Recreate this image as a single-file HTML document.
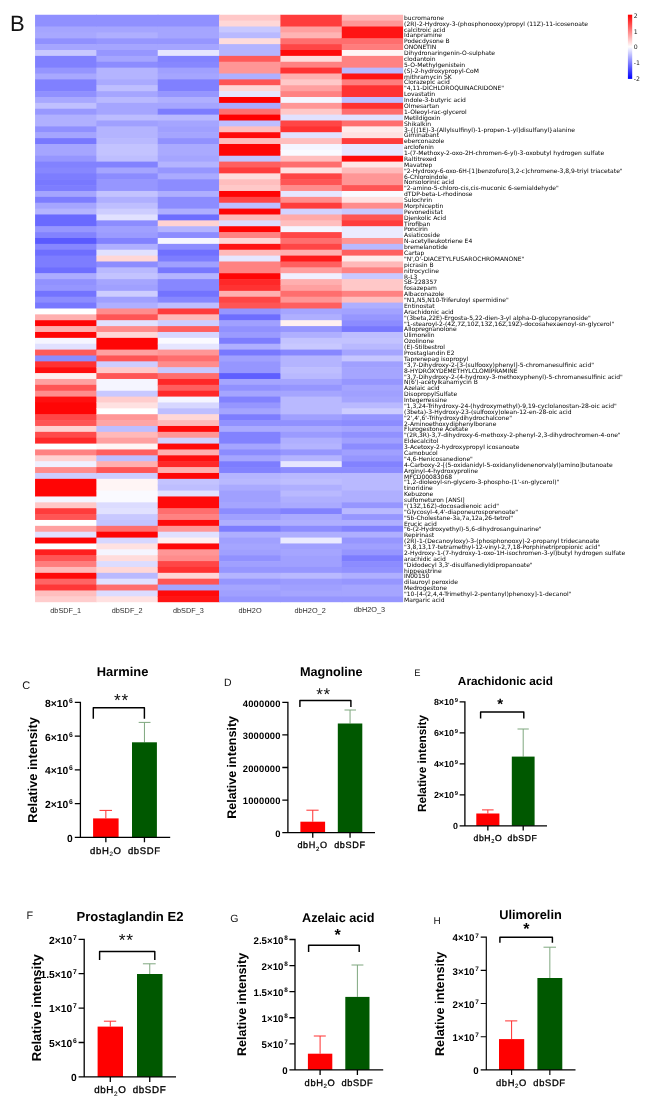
<!DOCTYPE html>
<html><head><meta charset="utf-8"><title>Figure</title>
<style>
html,body{margin:0;padding:0;background:#fff}
svg{display:block;text-rendering:geometricPrecision}
.lab{font-family:"DejaVu Sans","Liberation Sans",sans-serif;font-size:6.0px;fill:#000}
.cb{font-family:"DejaVu Sans","Liberation Sans",sans-serif;font-size:6.2px;fill:#222}
.col{font-family:"Liberation Sans",Arial,sans-serif;font-size:7.3px;fill:#303030;text-anchor:middle}
.pl{font-family:"Liberation Sans",Arial,sans-serif;fill:#111}
.xl{font-family:"Liberation Sans",Arial,sans-serif;fill:#000;stroke:#000;stroke-width:0.32;text-anchor:middle}
.b{font-family:"Liberation Sans",Arial,sans-serif;font-weight:bold;fill:#000}
</style></head><body>
<svg width="650" height="1108" viewBox="0 0 650 1108">
<rect width="650" height="1108" fill="#fff"/>
<defs><linearGradient id="cbg" x1="0" y1="0" x2="0" y2="1"><stop offset="0" stop-color="#ff0000"/><stop offset="0.5" stop-color="#ffffff"/><stop offset="1" stop-color="#0000ff"/></linearGradient></defs>
<text class="pl" x="9.9" y="31.2" font-size="22">B</text>
<g>
<rect x="35.05" y="14.75" width="61.95" height="12.35" fill="#9090ff"/>
<rect x="35.05" y="26.50" width="61.95" height="6.47" fill="#a5a5ff"/>
<rect x="35.05" y="32.37" width="61.95" height="6.47" fill="#a8a8ff"/>
<rect x="35.05" y="38.25" width="61.95" height="6.47" fill="#9090ff"/>
<rect x="35.05" y="44.12" width="61.95" height="6.47" fill="#a5a5ff"/>
<rect x="35.05" y="50.00" width="61.95" height="6.47" fill="#c8c8ff"/>
<rect x="35.05" y="55.87" width="61.95" height="12.35" fill="#8080ff"/>
<rect x="35.05" y="67.62" width="61.95" height="6.47" fill="#9595ff"/>
<rect x="35.05" y="73.50" width="61.95" height="6.47" fill="#a8a8ff"/>
<rect x="35.05" y="79.37" width="61.95" height="12.35" fill="#8080ff"/>
<rect x="35.05" y="91.12" width="61.95" height="6.47" fill="#9090ff"/>
<rect x="35.05" y="96.99" width="61.95" height="6.47" fill="#a8a8ff"/>
<rect x="35.05" y="102.87" width="61.95" height="6.47" fill="#c0c0ff"/>
<rect x="35.05" y="108.74" width="61.95" height="6.47" fill="#9898ff"/>
<rect x="35.05" y="114.62" width="61.95" height="12.35" fill="#b0b0ff"/>
<rect x="35.05" y="126.37" width="61.95" height="6.47" fill="#9090ff"/>
<rect x="35.05" y="132.24" width="61.95" height="6.47" fill="#a5a5ff"/>
<rect x="35.05" y="138.11" width="61.95" height="6.47" fill="#7878ff"/>
<rect x="35.05" y="143.99" width="61.95" height="12.35" fill="#a5a5ff"/>
<rect x="35.05" y="155.74" width="61.95" height="6.47" fill="#9696ff"/>
<rect x="35.05" y="161.61" width="61.95" height="6.47" fill="#8282ff"/>
<rect x="35.05" y="167.49" width="61.95" height="6.47" fill="#8787ff"/>
<rect x="35.05" y="173.36" width="61.95" height="6.47" fill="#7d7dff"/>
<rect x="35.05" y="179.24" width="61.95" height="6.47" fill="#7878ff"/>
<rect x="35.05" y="185.11" width="61.95" height="6.47" fill="#7d7dff"/>
<rect x="35.05" y="190.99" width="61.95" height="6.47" fill="#a5a5ff"/>
<rect x="35.05" y="196.86" width="61.95" height="6.47" fill="#7d7dff"/>
<rect x="35.05" y="202.73" width="61.95" height="6.47" fill="#a5a5ff"/>
<rect x="35.05" y="208.61" width="61.95" height="6.47" fill="#b4b4ff"/>
<rect x="35.05" y="214.48" width="61.95" height="12.35" fill="#6969ff"/>
<rect x="35.05" y="226.23" width="61.95" height="6.47" fill="#9696ff"/>
<rect x="35.05" y="232.11" width="61.95" height="6.47" fill="#8282ff"/>
<rect x="35.05" y="237.98" width="61.95" height="6.47" fill="#5a5aff"/>
<rect x="35.05" y="243.86" width="61.95" height="6.47" fill="#8787ff"/>
<rect x="35.05" y="249.73" width="61.95" height="6.47" fill="#6e6eff"/>
<rect x="35.05" y="255.60" width="61.95" height="12.35" fill="#7d7dff"/>
<rect x="35.05" y="267.35" width="61.95" height="6.47" fill="#6e6eff"/>
<rect x="35.05" y="273.23" width="61.95" height="6.47" fill="#acacff"/>
<rect x="35.05" y="279.10" width="61.95" height="6.47" fill="#9191ff"/>
<rect x="35.05" y="284.98" width="61.95" height="6.47" fill="#9696ff"/>
<rect x="35.05" y="290.85" width="61.95" height="6.47" fill="#7373ff"/>
<rect x="35.05" y="296.73" width="61.95" height="6.47" fill="#8c8cff"/>
<rect x="35.05" y="302.60" width="61.95" height="6.47" fill="#7878ff"/>
<rect x="35.05" y="308.48" width="61.95" height="6.47" fill="#ffffff"/>
<rect x="35.05" y="314.35" width="61.95" height="6.47" fill="#ffafaf"/>
<rect x="35.05" y="320.22" width="61.95" height="6.47" fill="#ff0505"/>
<rect x="35.05" y="326.10" width="61.95" height="6.47" fill="#ffafaf"/>
<rect x="35.05" y="331.97" width="61.95" height="6.47" fill="#ff0505"/>
<rect x="35.05" y="337.85" width="61.95" height="6.47" fill="#f5f5ff"/>
<rect x="35.05" y="343.72" width="61.95" height="6.47" fill="#e1e1ff"/>
<rect x="35.05" y="349.60" width="61.95" height="6.47" fill="#ff5a5a"/>
<rect x="35.05" y="355.47" width="61.95" height="6.47" fill="#8c8cff"/>
<rect x="35.05" y="361.35" width="61.95" height="6.47" fill="#ff3232"/>
<rect x="35.05" y="367.22" width="61.95" height="6.47" fill="#ff0f0f"/>
<rect x="35.05" y="373.09" width="61.95" height="6.47" fill="#fff0f0"/>
<rect x="35.05" y="378.97" width="61.95" height="6.47" fill="#ffa0a0"/>
<rect x="35.05" y="384.84" width="61.95" height="6.47" fill="#ff5555"/>
<rect x="35.05" y="390.72" width="61.95" height="6.47" fill="#ff8c8c"/>
<rect x="35.05" y="396.59" width="61.95" height="6.47" fill="#ff0f0f"/>
<rect x="35.05" y="402.47" width="61.95" height="12.35" fill="#ff0505"/>
<rect x="35.05" y="414.22" width="61.95" height="6.47" fill="#ff4646"/>
<rect x="35.05" y="420.09" width="61.95" height="6.47" fill="#ff5555"/>
<rect x="35.05" y="425.97" width="61.95" height="6.47" fill="#ffd2d2"/>
<rect x="35.05" y="431.84" width="61.95" height="6.47" fill="#ff4b4b"/>
<rect x="35.05" y="437.71" width="61.95" height="6.47" fill="#ff2828"/>
<rect x="35.05" y="443.59" width="61.95" height="6.47" fill="#ffffff"/>
<rect x="35.05" y="449.46" width="61.95" height="6.47" fill="#ff8282"/>
<rect x="35.05" y="455.34" width="61.95" height="6.47" fill="#ffd2d2"/>
<rect x="35.05" y="461.21" width="61.95" height="6.47" fill="#f0f0ff"/>
<rect x="35.05" y="467.09" width="61.95" height="6.47" fill="#ff8c8c"/>
<rect x="35.05" y="472.96" width="61.95" height="6.47" fill="#cdcdff"/>
<rect x="35.05" y="478.84" width="61.95" height="18.22" fill="#ff0505"/>
<rect x="35.05" y="496.46" width="61.95" height="6.47" fill="#f5f5ff"/>
<rect x="35.05" y="502.33" width="61.95" height="6.47" fill="#ffc8c8"/>
<rect x="35.05" y="508.21" width="61.95" height="6.47" fill="#ff3c3c"/>
<rect x="35.05" y="514.08" width="61.95" height="6.47" fill="#ff5555"/>
<rect x="35.05" y="519.96" width="61.95" height="6.47" fill="#ffffff"/>
<rect x="35.05" y="525.83" width="61.95" height="6.47" fill="#ffa0a0"/>
<rect x="35.05" y="531.71" width="61.95" height="6.47" fill="#e1e1ff"/>
<rect x="35.05" y="537.58" width="61.95" height="6.47" fill="#ff0505"/>
<rect x="35.05" y="543.46" width="61.95" height="6.47" fill="#ffffff"/>
<rect x="35.05" y="549.33" width="61.95" height="6.47" fill="#ff1e1e"/>
<rect x="35.05" y="555.20" width="61.95" height="6.47" fill="#ff5555"/>
<rect x="35.05" y="561.08" width="61.95" height="6.47" fill="#ff7d7d"/>
<rect x="35.05" y="566.95" width="61.95" height="6.47" fill="#ffb9b9"/>
<rect x="35.05" y="572.83" width="61.95" height="6.47" fill="#ff0a0a"/>
<rect x="35.05" y="578.70" width="61.95" height="6.47" fill="#ff6464"/>
<rect x="35.05" y="584.58" width="61.95" height="6.47" fill="#ff3737"/>
<rect x="35.05" y="590.45" width="61.95" height="6.47" fill="#ffbebe"/>
<rect x="35.05" y="596.33" width="61.95" height="5.87" fill="#ffcdcd"/>
<rect x="96.39" y="14.75" width="61.95" height="12.35" fill="#9090ff"/>
<rect x="96.39" y="26.50" width="61.95" height="6.47" fill="#a5a5ff"/>
<rect x="96.39" y="32.37" width="61.95" height="6.47" fill="#afafff"/>
<rect x="96.39" y="38.25" width="61.95" height="6.47" fill="#9696ff"/>
<rect x="96.39" y="44.12" width="61.95" height="6.47" fill="#a5a5ff"/>
<rect x="96.39" y="50.00" width="61.95" height="6.47" fill="#9696ff"/>
<rect x="96.39" y="55.87" width="61.95" height="6.47" fill="#a5a5ff"/>
<rect x="96.39" y="61.75" width="61.95" height="6.47" fill="#8c8cff"/>
<rect x="96.39" y="67.62" width="61.95" height="12.35" fill="#b4b4ff"/>
<rect x="96.39" y="79.37" width="61.95" height="6.47" fill="#aaaaff"/>
<rect x="96.39" y="85.24" width="61.95" height="6.47" fill="#bebeff"/>
<rect x="96.39" y="91.12" width="61.95" height="6.47" fill="#a5a5ff"/>
<rect x="96.39" y="96.99" width="61.95" height="6.47" fill="#b9b9ff"/>
<rect x="96.39" y="102.87" width="61.95" height="12.35" fill="#a5a5ff"/>
<rect x="96.39" y="114.62" width="61.95" height="6.47" fill="#bcbcff"/>
<rect x="96.39" y="120.49" width="61.95" height="6.47" fill="#a0a0ff"/>
<rect x="96.39" y="126.37" width="61.95" height="12.35" fill="#b4b4ff"/>
<rect x="96.39" y="138.11" width="61.95" height="6.47" fill="#b9b9ff"/>
<rect x="96.39" y="143.99" width="61.95" height="12.35" fill="#c3c3ff"/>
<rect x="96.39" y="155.74" width="61.95" height="6.47" fill="#bebeff"/>
<rect x="96.39" y="161.61" width="61.95" height="6.47" fill="#8282ff"/>
<rect x="96.39" y="167.49" width="61.95" height="6.47" fill="#a5a5ff"/>
<rect x="96.39" y="173.36" width="61.95" height="6.47" fill="#8c8cff"/>
<rect x="96.39" y="179.24" width="61.95" height="12.35" fill="#9696ff"/>
<rect x="96.39" y="190.99" width="61.95" height="6.47" fill="#c3c3ff"/>
<rect x="96.39" y="196.86" width="61.95" height="6.47" fill="#afafff"/>
<rect x="96.39" y="202.73" width="61.95" height="6.47" fill="#bebeff"/>
<rect x="96.39" y="208.61" width="61.95" height="6.47" fill="#cdcdff"/>
<rect x="96.39" y="214.48" width="61.95" height="6.47" fill="#e1e1ff"/>
<rect x="96.39" y="220.36" width="61.95" height="6.47" fill="#8c8cff"/>
<rect x="96.39" y="226.23" width="61.95" height="6.47" fill="#a0a0ff"/>
<rect x="96.39" y="232.11" width="61.95" height="6.47" fill="#9b9bff"/>
<rect x="96.39" y="237.98" width="61.95" height="6.47" fill="#8282ff"/>
<rect x="96.39" y="243.86" width="61.95" height="6.47" fill="#afafff"/>
<rect x="96.39" y="249.73" width="61.95" height="6.47" fill="#e1e1ff"/>
<rect x="96.39" y="255.60" width="61.95" height="6.47" fill="#ffd7d7"/>
<rect x="96.39" y="261.48" width="61.95" height="6.47" fill="#8c8cff"/>
<rect x="96.39" y="267.35" width="61.95" height="6.47" fill="#b9b9ff"/>
<rect x="96.39" y="273.23" width="61.95" height="6.47" fill="#c3c3ff"/>
<rect x="96.39" y="279.10" width="61.95" height="6.47" fill="#a5a5ff"/>
<rect x="96.39" y="284.98" width="61.95" height="6.47" fill="#a0a0ff"/>
<rect x="96.39" y="290.85" width="61.95" height="6.47" fill="#cdcdff"/>
<rect x="96.39" y="296.73" width="61.95" height="6.47" fill="#a0a0ff"/>
<rect x="96.39" y="302.60" width="61.95" height="6.47" fill="#afafff"/>
<rect x="96.39" y="308.48" width="61.95" height="6.47" fill="#ff8c8c"/>
<rect x="96.39" y="314.35" width="61.95" height="6.47" fill="#ff5555"/>
<rect x="96.39" y="320.22" width="61.95" height="6.47" fill="#e1e1ff"/>
<rect x="96.39" y="326.10" width="61.95" height="6.47" fill="#ff8c8c"/>
<rect x="96.39" y="331.97" width="61.95" height="6.47" fill="#ffd7d7"/>
<rect x="96.39" y="337.85" width="61.95" height="12.35" fill="#ff0505"/>
<rect x="96.39" y="349.60" width="61.95" height="6.47" fill="#ffa0a0"/>
<rect x="96.39" y="355.47" width="61.95" height="6.47" fill="#ff5555"/>
<rect x="96.39" y="361.35" width="61.95" height="6.47" fill="#cdcdff"/>
<rect x="96.39" y="367.22" width="61.95" height="6.47" fill="#ffc8c8"/>
<rect x="96.39" y="373.09" width="61.95" height="6.47" fill="#ff5555"/>
<rect x="96.39" y="378.97" width="61.95" height="12.35" fill="#f5f5ff"/>
<rect x="96.39" y="390.72" width="61.95" height="6.47" fill="#c8c8ff"/>
<rect x="96.39" y="396.59" width="61.95" height="6.47" fill="#ffcdcd"/>
<rect x="96.39" y="402.47" width="61.95" height="6.47" fill="#ffe1e1"/>
<rect x="96.39" y="408.34" width="61.95" height="6.47" fill="#ffffff"/>
<rect x="96.39" y="414.22" width="61.95" height="6.47" fill="#ff9696"/>
<rect x="96.39" y="420.09" width="61.95" height="6.47" fill="#ffa5a5"/>
<rect x="96.39" y="425.97" width="61.95" height="6.47" fill="#bebeff"/>
<rect x="96.39" y="431.84" width="61.95" height="6.47" fill="#ffb9b9"/>
<rect x="96.39" y="437.71" width="61.95" height="6.47" fill="#ffa0a0"/>
<rect x="96.39" y="443.59" width="61.95" height="6.47" fill="#fff5f5"/>
<rect x="96.39" y="449.46" width="61.95" height="6.47" fill="#ff5f5f"/>
<rect x="96.39" y="455.34" width="61.95" height="6.47" fill="#bebeff"/>
<rect x="96.39" y="461.21" width="61.95" height="6.47" fill="#ffafaf"/>
<rect x="96.39" y="467.09" width="61.95" height="6.47" fill="#ff5555"/>
<rect x="96.39" y="472.96" width="61.95" height="6.47" fill="#cdcdff"/>
<rect x="96.39" y="478.84" width="61.95" height="12.35" fill="#fff5f5"/>
<rect x="96.39" y="490.58" width="61.95" height="12.35" fill="#fafaff"/>
<rect x="96.39" y="502.33" width="61.95" height="6.47" fill="#dcdcff"/>
<rect x="96.39" y="508.21" width="61.95" height="6.47" fill="#e1e1ff"/>
<rect x="96.39" y="514.08" width="61.95" height="6.47" fill="#c8c8ff"/>
<rect x="96.39" y="519.96" width="61.95" height="6.47" fill="#c3c3ff"/>
<rect x="96.39" y="525.83" width="61.95" height="6.47" fill="#ff6e6e"/>
<rect x="96.39" y="531.71" width="61.95" height="6.47" fill="#ff0505"/>
<rect x="96.39" y="537.58" width="61.95" height="6.47" fill="#d7d7ff"/>
<rect x="96.39" y="543.46" width="61.95" height="6.47" fill="#ffe1e1"/>
<rect x="96.39" y="549.33" width="61.95" height="6.47" fill="#f5f5ff"/>
<rect x="96.39" y="555.20" width="61.95" height="6.47" fill="#ffdcdc"/>
<rect x="96.39" y="561.08" width="61.95" height="6.47" fill="#dcdcff"/>
<rect x="96.39" y="566.95" width="61.95" height="6.47" fill="#ffd7d7"/>
<rect x="96.39" y="572.83" width="61.95" height="6.47" fill="#b9b9ff"/>
<rect x="96.39" y="578.70" width="61.95" height="6.47" fill="#e1e1ff"/>
<rect x="96.39" y="584.58" width="61.95" height="6.47" fill="#ff6e6e"/>
<rect x="96.39" y="590.45" width="61.95" height="6.47" fill="#dcdcff"/>
<rect x="96.39" y="596.33" width="61.95" height="5.87" fill="#ffe1e1"/>
<rect x="157.74" y="14.75" width="61.95" height="12.35" fill="#9090ff"/>
<rect x="157.74" y="26.50" width="61.95" height="12.35" fill="#a5a5ff"/>
<rect x="157.74" y="38.25" width="61.95" height="6.47" fill="#9696ff"/>
<rect x="157.74" y="44.12" width="61.95" height="6.47" fill="#a5a5ff"/>
<rect x="157.74" y="50.00" width="61.95" height="6.47" fill="#e6e6ff"/>
<rect x="157.74" y="55.87" width="61.95" height="6.47" fill="#8282ff"/>
<rect x="157.74" y="61.75" width="61.95" height="6.47" fill="#8787ff"/>
<rect x="157.74" y="67.62" width="61.95" height="6.47" fill="#a0a0ff"/>
<rect x="157.74" y="73.50" width="61.95" height="6.47" fill="#a5a5ff"/>
<rect x="157.74" y="79.37" width="61.95" height="12.35" fill="#8080ff"/>
<rect x="157.74" y="91.12" width="61.95" height="6.47" fill="#9696ff"/>
<rect x="157.74" y="96.99" width="61.95" height="6.47" fill="#afafff"/>
<rect x="157.74" y="102.87" width="61.95" height="6.47" fill="#a5a5ff"/>
<rect x="157.74" y="108.74" width="61.95" height="6.47" fill="#7d7dff"/>
<rect x="157.74" y="114.62" width="61.95" height="6.47" fill="#b9b9ff"/>
<rect x="157.74" y="120.49" width="61.95" height="6.47" fill="#a5a5ff"/>
<rect x="157.74" y="126.37" width="61.95" height="6.47" fill="#a0a0ff"/>
<rect x="157.74" y="132.24" width="61.95" height="6.47" fill="#a5a5ff"/>
<rect x="157.74" y="138.11" width="61.95" height="6.47" fill="#9191ff"/>
<rect x="157.74" y="143.99" width="61.95" height="12.35" fill="#aaaaff"/>
<rect x="157.74" y="155.74" width="61.95" height="6.47" fill="#a5a5ff"/>
<rect x="157.74" y="161.61" width="61.95" height="6.47" fill="#b4b4ff"/>
<rect x="157.74" y="167.49" width="61.95" height="6.47" fill="#9696ff"/>
<rect x="157.74" y="173.36" width="61.95" height="6.47" fill="#aaaaff"/>
<rect x="157.74" y="179.24" width="61.95" height="12.35" fill="#8c8cff"/>
<rect x="157.74" y="190.99" width="61.95" height="6.47" fill="#afafff"/>
<rect x="157.74" y="196.86" width="61.95" height="12.35" fill="#8c8cff"/>
<rect x="157.74" y="208.61" width="61.95" height="6.47" fill="#afafff"/>
<rect x="157.74" y="214.48" width="61.95" height="6.47" fill="#6e6eff"/>
<rect x="157.74" y="220.36" width="61.95" height="6.47" fill="#ffd2d2"/>
<rect x="157.74" y="226.23" width="61.95" height="6.47" fill="#b4b4ff"/>
<rect x="157.74" y="232.11" width="61.95" height="6.47" fill="#8c8cff"/>
<rect x="157.74" y="237.98" width="61.95" height="6.47" fill="#f5f5ff"/>
<rect x="157.74" y="243.86" width="61.95" height="6.47" fill="#8c8cff"/>
<rect x="157.74" y="249.73" width="61.95" height="6.47" fill="#7070ff"/>
<rect x="157.74" y="255.60" width="61.95" height="6.47" fill="#7d7dff"/>
<rect x="157.74" y="261.48" width="61.95" height="6.47" fill="#a0a0ff"/>
<rect x="157.74" y="267.35" width="61.95" height="6.47" fill="#7878ff"/>
<rect x="157.74" y="273.23" width="61.95" height="6.47" fill="#b4b4ff"/>
<rect x="157.74" y="279.10" width="61.95" height="12.35" fill="#8787ff"/>
<rect x="157.74" y="290.85" width="61.95" height="6.47" fill="#7373ff"/>
<rect x="157.74" y="296.73" width="61.95" height="6.47" fill="#8787ff"/>
<rect x="157.74" y="302.60" width="61.95" height="6.47" fill="#bebeff"/>
<rect x="157.74" y="308.48" width="61.95" height="6.47" fill="#ff3c3c"/>
<rect x="157.74" y="314.35" width="61.95" height="6.47" fill="#ffb9b9"/>
<rect x="157.74" y="320.22" width="61.95" height="6.47" fill="#cdcdff"/>
<rect x="157.74" y="326.10" width="61.95" height="6.47" fill="#ff5f5f"/>
<rect x="157.74" y="331.97" width="61.95" height="6.47" fill="#d7d7ff"/>
<rect x="157.74" y="337.85" width="61.95" height="6.47" fill="#fafaff"/>
<rect x="157.74" y="343.72" width="61.95" height="6.47" fill="#e6e6ff"/>
<rect x="157.74" y="349.60" width="61.95" height="6.47" fill="#ff9696"/>
<rect x="157.74" y="355.47" width="61.95" height="6.47" fill="#ff6e6e"/>
<rect x="157.74" y="361.35" width="61.95" height="6.47" fill="#ff8c8c"/>
<rect x="157.74" y="367.22" width="61.95" height="6.47" fill="#c8c8ff"/>
<rect x="157.74" y="373.09" width="61.95" height="6.47" fill="#ff6e6e"/>
<rect x="157.74" y="378.97" width="61.95" height="6.47" fill="#ff2828"/>
<rect x="157.74" y="384.84" width="61.95" height="6.47" fill="#ff5f5f"/>
<rect x="157.74" y="390.72" width="61.95" height="6.47" fill="#ff2828"/>
<rect x="157.74" y="396.59" width="61.95" height="6.47" fill="#f5f5ff"/>
<rect x="157.74" y="402.47" width="61.95" height="6.47" fill="#d7d7ff"/>
<rect x="157.74" y="408.34" width="61.95" height="6.47" fill="#bebeff"/>
<rect x="157.74" y="414.22" width="61.95" height="6.47" fill="#ffd7d7"/>
<rect x="157.74" y="420.09" width="61.95" height="6.47" fill="#ffb9b9"/>
<rect x="157.74" y="425.97" width="61.95" height="6.47" fill="#ff0a0a"/>
<rect x="157.74" y="431.84" width="61.95" height="6.47" fill="#ff9696"/>
<rect x="157.74" y="437.71" width="61.95" height="6.47" fill="#d2d2ff"/>
<rect x="157.74" y="443.59" width="61.95" height="6.47" fill="#ff0a0a"/>
<rect x="157.74" y="449.46" width="61.95" height="6.47" fill="#ffafaf"/>
<rect x="157.74" y="455.34" width="61.95" height="6.47" fill="#ff0f0f"/>
<rect x="157.74" y="461.21" width="61.95" height="6.47" fill="#ff2828"/>
<rect x="157.74" y="467.09" width="61.95" height="6.47" fill="#ffafaf"/>
<rect x="157.74" y="472.96" width="61.95" height="6.47" fill="#ff0505"/>
<rect x="157.74" y="478.84" width="61.95" height="6.47" fill="#c3c3ff"/>
<rect x="157.74" y="484.71" width="61.95" height="6.47" fill="#bebeff"/>
<rect x="157.74" y="490.58" width="61.95" height="6.47" fill="#e1e1ff"/>
<rect x="157.74" y="496.46" width="61.95" height="12.35" fill="#ff0a0a"/>
<rect x="157.74" y="508.21" width="61.95" height="6.47" fill="#ff6e6e"/>
<rect x="157.74" y="514.08" width="61.95" height="6.47" fill="#ff8282"/>
<rect x="157.74" y="519.96" width="61.95" height="6.47" fill="#ff0a0a"/>
<rect x="157.74" y="525.83" width="61.95" height="6.47" fill="#ff9696"/>
<rect x="157.74" y="531.71" width="61.95" height="6.47" fill="#e1e1ff"/>
<rect x="157.74" y="537.58" width="61.95" height="6.47" fill="#fff0f0"/>
<rect x="157.74" y="543.46" width="61.95" height="6.47" fill="#ff0a0a"/>
<rect x="157.74" y="549.33" width="61.95" height="6.47" fill="#ff9696"/>
<rect x="157.74" y="555.20" width="61.95" height="6.47" fill="#ff8c8c"/>
<rect x="157.74" y="561.08" width="61.95" height="6.47" fill="#ff4646"/>
<rect x="157.74" y="566.95" width="61.95" height="6.47" fill="#ff3232"/>
<rect x="157.74" y="572.83" width="61.95" height="6.47" fill="#ffd7d7"/>
<rect x="157.74" y="578.70" width="61.95" height="6.47" fill="#ff5555"/>
<rect x="157.74" y="584.58" width="61.95" height="6.47" fill="#a5a5ff"/>
<rect x="157.74" y="590.45" width="61.95" height="6.47" fill="#ff0a0a"/>
<rect x="157.74" y="596.33" width="61.95" height="5.87" fill="#ff1414"/>
<rect x="219.08" y="14.75" width="61.95" height="6.47" fill="#ffc8c8"/>
<rect x="219.08" y="20.62" width="61.95" height="6.47" fill="#ffd7d7"/>
<rect x="219.08" y="26.50" width="61.95" height="6.47" fill="#c8c8ff"/>
<rect x="219.08" y="32.37" width="61.95" height="6.47" fill="#b9b9ff"/>
<rect x="219.08" y="38.25" width="61.95" height="6.47" fill="#ffdcdc"/>
<rect x="219.08" y="44.12" width="61.95" height="12.35" fill="#b4b4ff"/>
<rect x="219.08" y="55.87" width="61.95" height="6.47" fill="#ff5a5a"/>
<rect x="219.08" y="61.75" width="61.95" height="12.35" fill="#ff9696"/>
<rect x="219.08" y="73.50" width="61.95" height="6.47" fill="#afafff"/>
<rect x="219.08" y="79.37" width="61.95" height="6.47" fill="#ff5555"/>
<rect x="219.08" y="85.24" width="61.95" height="6.47" fill="#ffd7d7"/>
<rect x="219.08" y="91.12" width="61.95" height="6.47" fill="#e6e6ff"/>
<rect x="219.08" y="96.99" width="61.95" height="6.47" fill="#ff0000"/>
<rect x="219.08" y="102.87" width="61.95" height="6.47" fill="#aaaaff"/>
<rect x="219.08" y="108.74" width="61.95" height="6.47" fill="#ff6e6e"/>
<rect x="219.08" y="114.62" width="61.95" height="6.47" fill="#ff0000"/>
<rect x="219.08" y="120.49" width="61.95" height="6.47" fill="#bebeff"/>
<rect x="219.08" y="126.37" width="61.95" height="6.47" fill="#ffbebe"/>
<rect x="219.08" y="132.24" width="61.95" height="6.47" fill="#ff0a0a"/>
<rect x="219.08" y="138.11" width="61.95" height="6.47" fill="#ffbebe"/>
<rect x="219.08" y="143.99" width="61.95" height="12.35" fill="#ff0505"/>
<rect x="219.08" y="155.74" width="61.95" height="6.47" fill="#c3c3ff"/>
<rect x="219.08" y="161.61" width="61.95" height="6.47" fill="#ff5f5f"/>
<rect x="219.08" y="167.49" width="61.95" height="6.47" fill="#ff3c3c"/>
<rect x="219.08" y="173.36" width="61.95" height="6.47" fill="#ffdcdc"/>
<rect x="219.08" y="179.24" width="61.95" height="6.47" fill="#ffbebe"/>
<rect x="219.08" y="185.11" width="61.95" height="6.47" fill="#ffc8c8"/>
<rect x="219.08" y="190.99" width="61.95" height="6.47" fill="#ff0505"/>
<rect x="219.08" y="196.86" width="61.95" height="6.47" fill="#ff4646"/>
<rect x="219.08" y="202.73" width="61.95" height="6.47" fill="#bebeff"/>
<rect x="219.08" y="208.61" width="61.95" height="6.47" fill="#ff0505"/>
<rect x="219.08" y="214.48" width="61.95" height="6.47" fill="#ffb9b9"/>
<rect x="219.08" y="220.36" width="61.95" height="6.47" fill="#dcdcff"/>
<rect x="219.08" y="226.23" width="61.95" height="6.47" fill="#ff0505"/>
<rect x="219.08" y="232.11" width="61.95" height="6.47" fill="#ff8282"/>
<rect x="219.08" y="237.98" width="61.95" height="6.47" fill="#ffd7d7"/>
<rect x="219.08" y="243.86" width="61.95" height="6.47" fill="#ff1414"/>
<rect x="219.08" y="249.73" width="61.95" height="6.47" fill="#ffb9b9"/>
<rect x="219.08" y="255.60" width="61.95" height="6.47" fill="#e6e6ff"/>
<rect x="219.08" y="261.48" width="61.95" height="12.35" fill="#ff8282"/>
<rect x="219.08" y="273.23" width="61.95" height="6.47" fill="#ff0505"/>
<rect x="219.08" y="279.10" width="61.95" height="6.47" fill="#ff2828"/>
<rect x="219.08" y="284.98" width="61.95" height="6.47" fill="#ff3232"/>
<rect x="219.08" y="290.85" width="61.95" height="6.47" fill="#ffafaf"/>
<rect x="219.08" y="296.73" width="61.95" height="6.47" fill="#ff4646"/>
<rect x="219.08" y="302.60" width="61.95" height="6.47" fill="#ff5555"/>
<rect x="219.08" y="308.48" width="61.95" height="6.47" fill="#9696ff"/>
<rect x="219.08" y="314.35" width="61.95" height="6.47" fill="#6e6eff"/>
<rect x="219.08" y="320.22" width="61.95" height="6.47" fill="#a0a0ff"/>
<rect x="219.08" y="326.10" width="61.95" height="6.47" fill="#9191ff"/>
<rect x="219.08" y="331.97" width="61.95" height="6.47" fill="#9b9bff"/>
<rect x="219.08" y="337.85" width="61.95" height="6.47" fill="#7d7dff"/>
<rect x="219.08" y="343.72" width="61.95" height="6.47" fill="#afafff"/>
<rect x="219.08" y="349.60" width="61.95" height="6.47" fill="#7878ff"/>
<rect x="219.08" y="355.47" width="61.95" height="6.47" fill="#a0a0ff"/>
<rect x="219.08" y="361.35" width="61.95" height="12.35" fill="#9696ff"/>
<rect x="219.08" y="373.09" width="61.95" height="6.47" fill="#5f5fff"/>
<rect x="219.08" y="378.97" width="61.95" height="6.47" fill="#a5a5ff"/>
<rect x="219.08" y="384.84" width="61.95" height="6.47" fill="#9191ff"/>
<rect x="219.08" y="390.72" width="61.95" height="6.47" fill="#a5a5ff"/>
<rect x="219.08" y="396.59" width="61.95" height="6.47" fill="#8282ff"/>
<rect x="219.08" y="402.47" width="61.95" height="6.47" fill="#9696ff"/>
<rect x="219.08" y="408.34" width="61.95" height="6.47" fill="#a5a5ff"/>
<rect x="219.08" y="414.22" width="61.95" height="6.47" fill="#7d7dff"/>
<rect x="219.08" y="420.09" width="61.95" height="6.47" fill="#9191ff"/>
<rect x="219.08" y="425.97" width="61.95" height="6.47" fill="#aaaaff"/>
<rect x="219.08" y="431.84" width="61.95" height="12.35" fill="#8282ff"/>
<rect x="219.08" y="443.59" width="61.95" height="6.47" fill="#a5a5ff"/>
<rect x="219.08" y="449.46" width="61.95" height="6.47" fill="#8c8cff"/>
<rect x="219.08" y="455.34" width="61.95" height="6.47" fill="#a5a5ff"/>
<rect x="219.08" y="461.21" width="61.95" height="6.47" fill="#7d7dff"/>
<rect x="219.08" y="467.09" width="61.95" height="6.47" fill="#8282ff"/>
<rect x="219.08" y="472.96" width="61.95" height="6.47" fill="#b4b4ff"/>
<rect x="219.08" y="478.84" width="61.95" height="6.47" fill="#b9b9ff"/>
<rect x="219.08" y="484.71" width="61.95" height="6.47" fill="#aaaaff"/>
<rect x="219.08" y="490.58" width="61.95" height="12.35" fill="#a0a0ff"/>
<rect x="219.08" y="502.33" width="61.95" height="6.47" fill="#a5a5ff"/>
<rect x="219.08" y="508.21" width="61.95" height="6.47" fill="#8c8cff"/>
<rect x="219.08" y="514.08" width="61.95" height="6.47" fill="#a0a0ff"/>
<rect x="219.08" y="519.96" width="61.95" height="6.47" fill="#afafff"/>
<rect x="219.08" y="525.83" width="61.95" height="6.47" fill="#7d7dff"/>
<rect x="219.08" y="531.71" width="61.95" height="6.47" fill="#afafff"/>
<rect x="219.08" y="537.58" width="61.95" height="6.47" fill="#a0a0ff"/>
<rect x="219.08" y="543.46" width="61.95" height="6.47" fill="#a5a5ff"/>
<rect x="219.08" y="549.33" width="61.95" height="6.47" fill="#a0a0ff"/>
<rect x="219.08" y="555.20" width="61.95" height="6.47" fill="#9191ff"/>
<rect x="219.08" y="561.08" width="61.95" height="6.47" fill="#a0a0ff"/>
<rect x="219.08" y="566.95" width="61.95" height="6.47" fill="#9696ff"/>
<rect x="219.08" y="572.83" width="61.95" height="6.47" fill="#b4b4ff"/>
<rect x="219.08" y="578.70" width="61.95" height="6.47" fill="#9696ff"/>
<rect x="219.08" y="584.58" width="61.95" height="6.47" fill="#a5a5ff"/>
<rect x="219.08" y="590.45" width="61.95" height="6.47" fill="#a0a0ff"/>
<rect x="219.08" y="596.33" width="61.95" height="5.87" fill="#9696ff"/>
<rect x="280.43" y="14.75" width="61.95" height="12.35" fill="#ff3c3c"/>
<rect x="280.43" y="26.50" width="61.95" height="6.47" fill="#ffa0a0"/>
<rect x="280.43" y="32.37" width="61.95" height="6.47" fill="#ffb4b4"/>
<rect x="280.43" y="38.25" width="61.95" height="6.47" fill="#ff6e6e"/>
<rect x="280.43" y="44.12" width="61.95" height="6.47" fill="#ff4646"/>
<rect x="280.43" y="50.00" width="61.95" height="6.47" fill="#ff0a0a"/>
<rect x="280.43" y="55.87" width="61.95" height="6.47" fill="#ffdcdc"/>
<rect x="280.43" y="61.75" width="61.95" height="6.47" fill="#ff8282"/>
<rect x="280.43" y="67.62" width="61.95" height="6.47" fill="#ff3232"/>
<rect x="280.43" y="73.50" width="61.95" height="6.47" fill="#ffafaf"/>
<rect x="280.43" y="79.37" width="61.95" height="6.47" fill="#ffc8c8"/>
<rect x="280.43" y="85.24" width="61.95" height="6.47" fill="#ffa0a0"/>
<rect x="280.43" y="91.12" width="61.95" height="6.47" fill="#ff8282"/>
<rect x="280.43" y="96.99" width="61.95" height="6.47" fill="#f5f5ff"/>
<rect x="280.43" y="102.87" width="61.95" height="6.47" fill="#ff9696"/>
<rect x="280.43" y="108.74" width="61.95" height="6.47" fill="#ffc8c8"/>
<rect x="280.43" y="114.62" width="61.95" height="6.47" fill="#e1e1ff"/>
<rect x="280.43" y="120.49" width="61.95" height="6.47" fill="#ff4646"/>
<rect x="280.43" y="126.37" width="61.95" height="6.47" fill="#ff3232"/>
<rect x="280.43" y="132.24" width="61.95" height="6.47" fill="#e1e1ff"/>
<rect x="280.43" y="138.11" width="61.95" height="6.47" fill="#ffbebe"/>
<rect x="280.43" y="143.99" width="61.95" height="6.47" fill="#f5f5ff"/>
<rect x="280.43" y="149.86" width="61.95" height="6.47" fill="#fafaff"/>
<rect x="280.43" y="155.74" width="61.95" height="6.47" fill="#ffbebe"/>
<rect x="280.43" y="161.61" width="61.95" height="6.47" fill="#ff6e6e"/>
<rect x="280.43" y="167.49" width="61.95" height="6.47" fill="#ffe1e1"/>
<rect x="280.43" y="173.36" width="61.95" height="6.47" fill="#ff4646"/>
<rect x="280.43" y="179.24" width="61.95" height="6.47" fill="#ff5555"/>
<rect x="280.43" y="185.11" width="61.95" height="6.47" fill="#ff8c8c"/>
<rect x="280.43" y="190.99" width="61.95" height="6.47" fill="#e6e6ff"/>
<rect x="280.43" y="196.86" width="61.95" height="6.47" fill="#ff8c8c"/>
<rect x="280.43" y="202.73" width="61.95" height="6.47" fill="#ff3c3c"/>
<rect x="280.43" y="208.61" width="61.95" height="6.47" fill="#d2d2ff"/>
<rect x="280.43" y="214.48" width="61.95" height="6.47" fill="#ffaaaa"/>
<rect x="280.43" y="220.36" width="61.95" height="6.47" fill="#ffbebe"/>
<rect x="280.43" y="226.23" width="61.95" height="6.47" fill="#f5f5ff"/>
<rect x="280.43" y="232.11" width="61.95" height="6.47" fill="#ff4646"/>
<rect x="280.43" y="237.98" width="61.95" height="6.47" fill="#ff6e6e"/>
<rect x="280.43" y="243.86" width="61.95" height="6.47" fill="#ff4646"/>
<rect x="280.43" y="249.73" width="61.95" height="6.47" fill="#ffafaf"/>
<rect x="280.43" y="255.60" width="61.95" height="6.47" fill="#ff1919"/>
<rect x="280.43" y="261.48" width="61.95" height="6.47" fill="#ff5f5f"/>
<rect x="280.43" y="267.35" width="61.95" height="6.47" fill="#ffa0a0"/>
<rect x="280.43" y="273.23" width="61.95" height="6.47" fill="#f0f0ff"/>
<rect x="280.43" y="279.10" width="61.95" height="6.47" fill="#ffafaf"/>
<rect x="280.43" y="284.98" width="61.95" height="6.47" fill="#ffa0a0"/>
<rect x="280.43" y="290.85" width="61.95" height="6.47" fill="#ff6e6e"/>
<rect x="280.43" y="296.73" width="61.95" height="6.47" fill="#ff9696"/>
<rect x="280.43" y="302.60" width="61.95" height="6.47" fill="#ff5f5f"/>
<rect x="280.43" y="308.48" width="61.95" height="6.47" fill="#a5a5ff"/>
<rect x="280.43" y="314.35" width="61.95" height="6.47" fill="#afafff"/>
<rect x="280.43" y="320.22" width="61.95" height="6.47" fill="#fff0f0"/>
<rect x="280.43" y="326.10" width="61.95" height="6.47" fill="#9696ff"/>
<rect x="280.43" y="331.97" width="61.95" height="6.47" fill="#afafff"/>
<rect x="280.43" y="337.85" width="61.95" height="6.47" fill="#c3c3ff"/>
<rect x="280.43" y="343.72" width="61.95" height="6.47" fill="#c8c8ff"/>
<rect x="280.43" y="349.60" width="61.95" height="6.47" fill="#8787ff"/>
<rect x="280.43" y="355.47" width="61.95" height="12.35" fill="#b4b4ff"/>
<rect x="280.43" y="367.22" width="61.95" height="6.47" fill="#bebeff"/>
<rect x="280.43" y="373.09" width="61.95" height="6.47" fill="#b9b9ff"/>
<rect x="280.43" y="378.97" width="61.95" height="6.47" fill="#a5a5ff"/>
<rect x="280.43" y="384.84" width="61.95" height="6.47" fill="#9696ff"/>
<rect x="280.43" y="390.72" width="61.95" height="6.47" fill="#a5a5ff"/>
<rect x="280.43" y="396.59" width="61.95" height="18.22" fill="#b9b9ff"/>
<rect x="280.43" y="414.22" width="61.95" height="6.47" fill="#a0a0ff"/>
<rect x="280.43" y="420.09" width="61.95" height="6.47" fill="#9191ff"/>
<rect x="280.43" y="425.97" width="61.95" height="6.47" fill="#aaaaff"/>
<rect x="280.43" y="431.84" width="61.95" height="6.47" fill="#9b9bff"/>
<rect x="280.43" y="437.71" width="61.95" height="6.47" fill="#afafff"/>
<rect x="280.43" y="443.59" width="61.95" height="6.47" fill="#b4b4ff"/>
<rect x="280.43" y="449.46" width="61.95" height="6.47" fill="#9696ff"/>
<rect x="280.43" y="455.34" width="61.95" height="6.47" fill="#b4b4ff"/>
<rect x="280.43" y="461.21" width="61.95" height="6.47" fill="#e6e6ff"/>
<rect x="280.43" y="467.09" width="61.95" height="6.47" fill="#8c8cff"/>
<rect x="280.43" y="472.96" width="61.95" height="6.47" fill="#b9b9ff"/>
<rect x="280.43" y="478.84" width="61.95" height="6.47" fill="#bebeff"/>
<rect x="280.43" y="484.71" width="61.95" height="6.47" fill="#afafff"/>
<rect x="280.43" y="490.58" width="61.95" height="6.47" fill="#b9b9ff"/>
<rect x="280.43" y="496.46" width="61.95" height="6.47" fill="#afafff"/>
<rect x="280.43" y="502.33" width="61.95" height="6.47" fill="#aaaaff"/>
<rect x="280.43" y="508.21" width="61.95" height="6.47" fill="#8282ff"/>
<rect x="280.43" y="514.08" width="61.95" height="6.47" fill="#aaaaff"/>
<rect x="280.43" y="519.96" width="61.95" height="6.47" fill="#afafff"/>
<rect x="280.43" y="525.83" width="61.95" height="6.47" fill="#8c8cff"/>
<rect x="280.43" y="531.71" width="61.95" height="6.47" fill="#afafff"/>
<rect x="280.43" y="537.58" width="61.95" height="6.47" fill="#ebebff"/>
<rect x="280.43" y="543.46" width="61.95" height="6.47" fill="#a0a0ff"/>
<rect x="280.43" y="549.33" width="61.95" height="6.47" fill="#a5a5ff"/>
<rect x="280.43" y="555.20" width="61.95" height="12.35" fill="#a0a0ff"/>
<rect x="280.43" y="566.95" width="61.95" height="6.47" fill="#9696ff"/>
<rect x="280.43" y="572.83" width="61.95" height="6.47" fill="#b9b9ff"/>
<rect x="280.43" y="578.70" width="61.95" height="6.47" fill="#9b9bff"/>
<rect x="280.43" y="584.58" width="61.95" height="6.47" fill="#a0a0ff"/>
<rect x="280.43" y="590.45" width="61.95" height="6.47" fill="#a5a5ff"/>
<rect x="280.43" y="596.33" width="61.95" height="5.87" fill="#9696ff"/>
<rect x="341.78" y="14.75" width="61.34" height="6.47" fill="#ffb4b4"/>
<rect x="341.78" y="20.62" width="61.34" height="6.47" fill="#ff9696"/>
<rect x="341.78" y="26.50" width="61.34" height="12.35" fill="#ff1414"/>
<rect x="341.78" y="38.25" width="61.34" height="6.47" fill="#ff6e6e"/>
<rect x="341.78" y="44.12" width="61.34" height="6.47" fill="#ff7d7d"/>
<rect x="341.78" y="50.00" width="61.34" height="6.47" fill="#fff5f5"/>
<rect x="341.78" y="55.87" width="61.34" height="12.35" fill="#ff8282"/>
<rect x="341.78" y="67.62" width="61.34" height="6.47" fill="#b9b9ff"/>
<rect x="341.78" y="73.50" width="61.34" height="6.47" fill="#ff1414"/>
<rect x="341.78" y="79.37" width="61.34" height="6.47" fill="#ff7d7d"/>
<rect x="341.78" y="85.24" width="61.34" height="12.35" fill="#ff3232"/>
<rect x="341.78" y="96.99" width="61.34" height="6.47" fill="#bebeff"/>
<rect x="341.78" y="102.87" width="61.34" height="6.47" fill="#ff3232"/>
<rect x="341.78" y="108.74" width="61.34" height="6.47" fill="#ff6e6e"/>
<rect x="341.78" y="114.62" width="61.34" height="6.47" fill="#e1e1ff"/>
<rect x="341.78" y="120.49" width="61.34" height="6.47" fill="#ff6e6e"/>
<rect x="341.78" y="126.37" width="61.34" height="6.47" fill="#ffebeb"/>
<rect x="341.78" y="132.24" width="61.34" height="6.47" fill="#ffe1e1"/>
<rect x="341.78" y="138.11" width="61.34" height="6.47" fill="#ff3c3c"/>
<rect x="341.78" y="143.99" width="61.34" height="12.35" fill="#e6e6ff"/>
<rect x="341.78" y="155.74" width="61.34" height="6.47" fill="#ff0a0a"/>
<rect x="341.78" y="161.61" width="61.34" height="6.47" fill="#ffe6e6"/>
<rect x="341.78" y="167.49" width="61.34" height="6.47" fill="#ffb9b9"/>
<rect x="341.78" y="173.36" width="61.34" height="12.35" fill="#ff9696"/>
<rect x="341.78" y="185.11" width="61.34" height="6.47" fill="#ff5555"/>
<rect x="341.78" y="190.99" width="61.34" height="6.47" fill="#fafaff"/>
<rect x="341.78" y="196.86" width="61.34" height="6.47" fill="#ffe1e1"/>
<rect x="341.78" y="202.73" width="61.34" height="6.47" fill="#ff8c8c"/>
<rect x="341.78" y="208.61" width="61.34" height="6.47" fill="#c8c8ff"/>
<rect x="341.78" y="214.48" width="61.34" height="6.47" fill="#ff5555"/>
<rect x="341.78" y="220.36" width="61.34" height="6.47" fill="#ff3c3c"/>
<rect x="341.78" y="226.23" width="61.34" height="12.35" fill="#ebebff"/>
<rect x="341.78" y="237.98" width="61.34" height="6.47" fill="#ff9696"/>
<rect x="341.78" y="243.86" width="61.34" height="6.47" fill="#b9b9ff"/>
<rect x="341.78" y="249.73" width="61.34" height="6.47" fill="#ff5f5f"/>
<rect x="341.78" y="255.60" width="61.34" height="6.47" fill="#ffebeb"/>
<rect x="341.78" y="261.48" width="61.34" height="6.47" fill="#ffb9b9"/>
<rect x="341.78" y="267.35" width="61.34" height="6.47" fill="#ff8282"/>
<rect x="341.78" y="273.23" width="61.34" height="6.47" fill="#c8c8ff"/>
<rect x="341.78" y="279.10" width="61.34" height="12.35" fill="#ffc8c8"/>
<rect x="341.78" y="290.85" width="61.34" height="6.47" fill="#ff8282"/>
<rect x="341.78" y="296.73" width="61.34" height="6.47" fill="#ffbebe"/>
<rect x="341.78" y="302.60" width="61.34" height="6.47" fill="#afafff"/>
<rect x="341.78" y="308.48" width="61.34" height="6.47" fill="#a2a2ff"/>
<rect x="341.78" y="314.35" width="61.34" height="6.47" fill="#9696ff"/>
<rect x="341.78" y="320.22" width="61.34" height="6.47" fill="#8c8cff"/>
<rect x="341.78" y="326.10" width="61.34" height="6.47" fill="#7878ff"/>
<rect x="341.78" y="331.97" width="61.34" height="6.47" fill="#bebeff"/>
<rect x="341.78" y="337.85" width="61.34" height="6.47" fill="#c3c3ff"/>
<rect x="341.78" y="343.72" width="61.34" height="6.47" fill="#b9b9ff"/>
<rect x="341.78" y="349.60" width="61.34" height="6.47" fill="#a5a5ff"/>
<rect x="341.78" y="355.47" width="61.34" height="6.47" fill="#c6c6ff"/>
<rect x="341.78" y="361.35" width="61.34" height="6.47" fill="#a0a0ff"/>
<rect x="341.78" y="367.22" width="61.34" height="12.35" fill="#a5a5ff"/>
<rect x="341.78" y="378.97" width="61.34" height="6.47" fill="#9696ff"/>
<rect x="341.78" y="384.84" width="61.34" height="6.47" fill="#a5a5ff"/>
<rect x="341.78" y="390.72" width="61.34" height="6.47" fill="#a0a0ff"/>
<rect x="341.78" y="396.59" width="61.34" height="6.47" fill="#a5a5ff"/>
<rect x="341.78" y="402.47" width="61.34" height="6.47" fill="#b9b9ff"/>
<rect x="341.78" y="408.34" width="61.34" height="6.47" fill="#cdcdff"/>
<rect x="341.78" y="414.22" width="61.34" height="6.47" fill="#9696ff"/>
<rect x="341.78" y="420.09" width="61.34" height="6.47" fill="#8c8cff"/>
<rect x="341.78" y="425.97" width="61.34" height="6.47" fill="#a5a5ff"/>
<rect x="341.78" y="431.84" width="61.34" height="6.47" fill="#9191ff"/>
<rect x="341.78" y="437.71" width="61.34" height="6.47" fill="#a0a0ff"/>
<rect x="341.78" y="443.59" width="61.34" height="6.47" fill="#8c8cff"/>
<rect x="341.78" y="449.46" width="61.34" height="6.47" fill="#a0a0ff"/>
<rect x="341.78" y="455.34" width="61.34" height="6.47" fill="#9696ff"/>
<rect x="341.78" y="461.21" width="61.34" height="6.47" fill="#8282ff"/>
<rect x="341.78" y="467.09" width="61.34" height="6.47" fill="#8c8cff"/>
<rect x="341.78" y="472.96" width="61.34" height="18.22" fill="#b9b9ff"/>
<rect x="341.78" y="490.58" width="61.34" height="12.35" fill="#afafff"/>
<rect x="341.78" y="502.33" width="61.34" height="6.47" fill="#9696ff"/>
<rect x="341.78" y="508.21" width="61.34" height="6.47" fill="#b9b9ff"/>
<rect x="341.78" y="514.08" width="61.34" height="6.47" fill="#9696ff"/>
<rect x="341.78" y="519.96" width="61.34" height="6.47" fill="#afafff"/>
<rect x="341.78" y="525.83" width="61.34" height="6.47" fill="#8282ff"/>
<rect x="341.78" y="531.71" width="61.34" height="6.47" fill="#afafff"/>
<rect x="341.78" y="537.58" width="61.34" height="6.47" fill="#9696ff"/>
<rect x="341.78" y="543.46" width="61.34" height="6.47" fill="#a0a0ff"/>
<rect x="341.78" y="549.33" width="61.34" height="6.47" fill="#9696ff"/>
<rect x="341.78" y="555.20" width="61.34" height="6.47" fill="#7d7dff"/>
<rect x="341.78" y="561.08" width="61.34" height="6.47" fill="#8c8cff"/>
<rect x="341.78" y="566.95" width="61.34" height="6.47" fill="#9191ff"/>
<rect x="341.78" y="572.83" width="61.34" height="6.47" fill="#afafff"/>
<rect x="341.78" y="578.70" width="61.34" height="6.47" fill="#9696ff"/>
<rect x="341.78" y="584.58" width="61.34" height="12.35" fill="#a5a5ff"/>
<rect x="341.78" y="596.33" width="61.34" height="5.87" fill="#9696ff"/>
</g>
<g class="lab">
<text x="404.05" y="19.77">bucromarone</text>
<text x="404.05" y="25.65">(2R)-2-Hydroxy-3-(phosphonooxy)propyl (11Z)-11-icosenoate</text>
<text x="404.05" y="31.53">calcitroic acid</text>
<text x="404.05" y="37.41">Idanpramine</text>
<text x="404.05" y="43.29">Podecdysone B</text>
<text x="404.05" y="49.18">ONONETIN</text>
<text x="404.05" y="55.06">Dihydronaringenin-O-sulphate</text>
<text x="404.05" y="60.94">clodantoin</text>
<text x="404.05" y="66.82">5-O-Methylgenistein</text>
<text x="404.05" y="72.70">(S)-2-hydroxypropyl-CoM</text>
<text x="404.05" y="78.58">mithramycin SK</text>
<text x="404.05" y="84.46">Clorazepic acid</text>
<text x="404.05" y="90.34">&quot;4,11-DICHLOROQUINACRIDONE&quot;</text>
<text x="404.05" y="96.23">Lovastatin</text>
<text x="404.05" y="102.11">Indole-3-butyric acid</text>
<text x="404.05" y="107.99">Olmesartan</text>
<text x="404.05" y="113.87">1-Oleoyl-rac-glycerol</text>
<text x="404.05" y="119.75">Metildigoxin</text>
<text x="404.05" y="125.63">Shikalkin</text>
<text x="404.05" y="131.51">3-{[(1E)-3-(Allylsulfinyl)-1-propen-1-yl]disulfanyl}alanine</text>
<text x="404.05" y="137.39">Giminabant</text>
<text x="404.05" y="143.28">eberconazole</text>
<text x="404.05" y="149.16">arclofenin</text>
<text x="404.05" y="155.04">1-(7-Methoxy-2-oxo-2H-chromen-6-yl)-3-oxobutyl hydrogen sulfate</text>
<text x="404.05" y="160.92">Raltitrexed</text>
<text x="404.05" y="166.80">Mavatrep</text>
<text x="404.05" y="172.68">&quot;2-Hydroxy-6-oxo-6H-[1]benzofuro[3,2-c]chromene-3,8,9-triyl triacetate&quot;</text>
<text x="404.05" y="178.56">6-Chloroindole</text>
<text x="404.05" y="184.44">Norsolorinic acid</text>
<text x="404.05" y="190.32">&quot;2-amino-5-chloro-cis,cis-muconic 6-semialdehyde&quot;</text>
<text x="404.05" y="196.21">dTDP-beta-L-rhodinose</text>
<text x="404.05" y="202.09">Sulochrin</text>
<text x="404.05" y="207.97">Morphiceptin</text>
<text x="404.05" y="213.85">Pevonedistat</text>
<text x="404.05" y="219.73">Djenkolic Acid</text>
<text x="404.05" y="225.61">Tirofiban</text>
<text x="404.05" y="231.49">Poncirin</text>
<text x="404.05" y="237.37">Asiaticoside</text>
<text x="404.05" y="243.26">N-acetylleukotriene E4</text>
<text x="404.05" y="249.14">bremelanotide</text>
<text x="404.05" y="255.02">Cartap</text>
<text x="404.05" y="260.90">&quot;N&#x27;,O&#x27;-DIACETYLFUSAROCHROMANONE&quot;</text>
<text x="404.05" y="266.78">picrasin B</text>
<text x="404.05" y="272.66">nitrocycline</text>
<text x="404.05" y="278.54">R-L3</text>
<text x="404.05" y="284.42">SB-228357</text>
<text x="404.05" y="290.31">fosazepam</text>
<text x="404.05" y="296.19">Albaconazole</text>
<text x="404.05" y="302.07">&quot;N1,N5,N10-Triferuloyl spermidine&quot;</text>
<text x="404.05" y="307.95">Entinostat</text>
<text x="404.05" y="313.83">Arachidonic acid</text>
<text x="404.05" y="319.71">&quot;(3beta,22E)-Ergosta-5,22-dien-3-yl alpha-D-glucopyranoside&quot;</text>
<text x="404.05" y="325.59">&quot;1-stearoyl-2-(4Z,7Z,10Z,13Z,16Z,19Z)-docosahexaenoyl-sn-glycerol&quot;</text>
<text x="404.05" y="331.47">Allopregnanolone</text>
<text x="404.05" y="337.35">Ulimorelin</text>
<text x="404.05" y="343.24">Ozolinone</text>
<text x="404.05" y="349.12">(E)-Stilbestrol</text>
<text x="404.05" y="355.00">Prostaglandin E2</text>
<text x="404.05" y="360.88">Taprenepag isopropyl</text>
<text x="404.05" y="366.76">&quot;3,7-Dihydroxy-2-[3-(sulfooxy)phenyl]-5-chromanesulfinic acid&quot;</text>
<text x="404.05" y="372.64">8-HYDROXYDEMETHYLCLOMIPRAMINE</text>
<text x="404.05" y="378.52">&quot;3,7-Dihydroxy-2-(4-hydroxy-3-methoxyphenyl)-5-chromanesulfinic acid&quot;</text>
<text x="404.05" y="384.40">N(6&#x27;)-acetylkanamycin B</text>
<text x="404.05" y="390.29">Azelaic acid</text>
<text x="404.05" y="396.17">DisopropylSulfate</text>
<text x="404.05" y="402.05">Integerressine</text>
<text x="404.05" y="407.93">&quot;1,3,24-Trihydroxy-24-(hydroxymethyl)-9,19-cyclolanostan-28-oic acid&quot;</text>
<text x="404.05" y="413.81">(3beta)-3-Hydroxy-23-(sulfooxy)olean-12-en-28-oic acid</text>
<text x="404.05" y="419.69">&quot;2&#x27;,4&#x27;,6&#x27;-Trihydroxydihydrochalcone&quot;</text>
<text x="404.05" y="425.57">2-Aminoethoxydiphenylborane</text>
<text x="404.05" y="431.45">Flurogestone Acetate</text>
<text x="404.05" y="437.34">&quot;(2R,3R)-3,7-dihydroxy-6-methoxy-2-phenyl-2,3-dihydrochromen-4-one&quot;</text>
<text x="404.05" y="443.22">Eldecalcitol</text>
<text x="404.05" y="449.10">3-Acetoxy-2-hydroxypropyl icosanoate</text>
<text x="404.05" y="454.98">Camobucol</text>
<text x="404.05" y="460.86">&quot;4,6-Henicosanedione&quot;</text>
<text x="404.05" y="466.74">4-Carboxy-2-[(5-oxidanidyl-5-oxidanylidenenorvalyl)amino]butanoate</text>
<text x="404.05" y="472.62">Arginyl-4-hydroxyproline</text>
<text x="404.05" y="478.50">MFCD00083068</text>
<text x="404.05" y="484.38">&quot;1,2-dioleoyl-sn-glycero-3-phospho-(1&#x27;-sn-glycerol)&quot;</text>
<text x="404.05" y="490.27">tinoridine</text>
<text x="404.05" y="496.15">Kebuzone</text>
<text x="404.05" y="502.03">sulfometuron [ANSI]</text>
<text x="404.05" y="507.91">&quot;(13Z,16Z)-docosadienoic acid&quot;</text>
<text x="404.05" y="513.79">&quot;Glycosyl-4,4&#x27;-diaponeurosporenoate&quot;</text>
<text x="404.05" y="519.67">&quot;5b-Cholestane-3a,7a,12a,26-tetrol&quot;</text>
<text x="404.05" y="525.55">Erucic acid</text>
<text x="404.05" y="531.43">&quot;6-(2-Hydroxyethyl)-5,6-dihydrosanguinarine&quot;</text>
<text x="404.05" y="537.32">Repirinast</text>
<text x="404.05" y="543.20">(2R)-1-(Decanoyloxy)-3-(phosphonooxy)-2-propanyl tridecanoate</text>
<text x="404.05" y="549.08">&quot;3,8,13,17-tetramethyl-12-vinyl-2,7,18-Porphinetripropionic acid&quot;</text>
<text x="404.05" y="554.96">2-Hydroxy-1-(7-hydroxy-1-oxo-1H-isochromen-3-yl)butyl hydrogen sulfate</text>
<text x="404.05" y="560.84">arachidic acid</text>
<text x="404.05" y="566.72">&quot;Didodecyl 3,3&#x27;-disulfanediyldipropanoate&quot;</text>
<text x="404.05" y="572.60">hippeastrine</text>
<text x="404.05" y="578.48">IN00150</text>
<text x="404.05" y="584.37">dilauroyl peroxide</text>
<text x="404.05" y="590.25">Medrogestone</text>
<text x="404.05" y="596.13">&quot;10-[4-(2,4,4-Trimethyl-2-pentanyl)phenoxy]-1-decanol&quot;</text>
<text x="404.05" y="602.01">Margaric acid</text>
</g>
<rect x="627.9" y="14.7" width="4.3" height="64.2" fill="url(#cbg)"/>
<text class="cb" x="633.8" y="17.90">2</text>
<text class="cb" x="633.8" y="33.65">1</text>
<text class="cb" x="633.8" y="49.40">0</text>
<text class="cb" x="633.8" y="65.15">-1</text>
<text class="cb" x="633.8" y="80.90">-2</text>
<text class="col" x="65.72" y="612.9">dbSDF_1</text>
<text class="col" x="127.07" y="612.9">dbSDF_2</text>
<text class="col" x="188.41" y="612.9">dbSDF_3</text>
<text class="col" x="250.06" y="612.9">dbH2O</text>
<text class="col" x="310.10" y="612.9">dbH2O_2</text>
<text class="col" x="369.45" y="611.9">dbH2O_3</text>
<g>
<text class="pl" x="22.3" y="689" font-size="11">C</text>
<text class="b" x="122.6" y="675.9" font-size="12.9" text-anchor="middle">Harmine</text>
<text class="b" font-size="12.85" text-anchor="middle" transform="translate(37.0,770) rotate(-90)">Relative intensity</text>
<path d="M105.85 818.4 V810.4 M99.5 810.4 H112.0" stroke="#ff3030" stroke-width="1" fill="none"/>
<path d="M144.45 742.3 V722.4 M138.7 722.4 H150.5" stroke="#7fa77f" stroke-width="1" fill="none"/>
<rect x="93.1" y="818.4" width="25.50" height="18.90" fill="#ff0000"/>
<rect x="132.0" y="742.3" width="24.90" height="95.00" fill="#005800"/>
<path d="M80.4 701.65 V837.95 M74.80000000000001 837.3 H170.2 M74.80000000000001 702.30 H80.4 M74.80000000000001 736.05 H80.4 M74.80000000000001 769.80 H80.4 M74.80000000000001 803.55 H80.4 M105.85 837.3 v5.0 M144.45 837.3 v5.0" stroke="#000" stroke-width="1.3" fill="none"/>
<text class="b" x="72.70" y="706.89" font-size="10.3" text-anchor="end">8×10<tspan font-size="6.8" dy="-3.94" dx="0.7">6</tspan></text>
<text class="b" x="72.70" y="740.64" font-size="10.3" text-anchor="end">6×10<tspan font-size="6.8" dy="-3.94" dx="0.7">6</tspan></text>
<text class="b" x="72.70" y="774.39" font-size="10.3" text-anchor="end">4×10<tspan font-size="6.8" dy="-3.94" dx="0.7">6</tspan></text>
<text class="b" x="72.70" y="808.14" font-size="10.3" text-anchor="end">2×10<tspan font-size="6.8" dy="-3.94" dx="0.7">6</tspan></text>
<text class="b" x="72.70" y="841.89" font-size="10.3" text-anchor="end">0</text>
<path d="M93.3 718.8 V707.8 H144.4 V718.8" stroke="#000" stroke-width="1.45" stroke-linejoin="round" fill="none"/>
<text class="pl" x="121.6" y="706.0" font-size="17.3" text-anchor="middle" letter-spacing="0.8" fill="#000">**</text>
<text class="xl" x="105.80" y="853.5" font-size="9.5" letter-spacing="0.62">dbH<tspan font-size="6.27" stroke-width="0.1" dy="2.38">2</tspan><tspan dy="-2.38">O</tspan></text>
<text class="xl" x="144.30" y="853.5" font-size="9.5" letter-spacing="0.62">dbSDF</text>
</g>
<g>
<text class="pl" x="224.0" y="685.8" font-size="10.5">D</text>
<text class="b" x="331.3" y="676.4" font-size="12.7" text-anchor="middle">Magnoline</text>
<text class="b" font-size="12.5" text-anchor="middle" transform="translate(236.0,767.4) rotate(-90)">Relative intensity</text>
<path d="M312.75 821.7 V810.2 M306.4 810.2 H318.6" stroke="#ff3030" stroke-width="1" fill="none"/>
<path d="M350.05 723.5 V710.0 M344.5 710.0 H356.0" stroke="#7fa77f" stroke-width="1" fill="none"/>
<rect x="300.4" y="821.7" width="24.70" height="11.00" fill="#ff0000"/>
<rect x="337.8" y="723.5" width="24.50" height="109.20" fill="#005800"/>
<path d="M287.9 701.65 V833.35 M282.29999999999995 832.7 H375.0 M282.29999999999995 702.30 H287.9 M282.29999999999995 734.90 H287.9 M282.29999999999995 767.50 H287.9 M282.29999999999995 800.10 H287.9 M312.75 832.7 v5.0 M350.05 832.7 v5.0" stroke="#000" stroke-width="1.3" fill="none"/>
<text class="b" x="280.70" y="706.57" font-size="9.4" text-anchor="end" letter-spacing="0.2">4000000</text>
<text class="b" x="280.70" y="739.17" font-size="9.4" text-anchor="end" letter-spacing="0.2">3000000</text>
<text class="b" x="280.70" y="771.77" font-size="9.4" text-anchor="end" letter-spacing="0.2">2000000</text>
<text class="b" x="280.70" y="804.37" font-size="9.4" text-anchor="end" letter-spacing="0.2">1000000</text>
<text class="b" x="280.70" y="836.97" font-size="9.4" text-anchor="end" letter-spacing="0.2">0</text>
<path d="M299.9 706.9 V700.5 H350.9 V706.9" stroke="#000" stroke-width="1.45" stroke-linejoin="round" fill="none"/>
<text class="pl" x="323.6" y="699.5" font-size="17" text-anchor="middle" letter-spacing="0.8" fill="#000">**</text>
<text class="xl" x="312.50" y="848.4" font-size="9.1" letter-spacing="0.62">dbH<tspan font-size="6.01" stroke-width="0.1" dy="2.27">2</tspan><tspan dy="-2.27">O</tspan></text>
<text class="xl" x="349.90" y="848.4" font-size="9.1" letter-spacing="0.62">dbSDF</text>
</g>
<g>
<text class="pl" x="414.2" y="675.9" font-size="9.3">E</text>
<text class="b" x="505.4" y="685.0" font-size="11.8" text-anchor="middle">Arachidonic acid</text>
<text class="b" font-size="11.8" text-anchor="middle" transform="translate(425.6,763.5) rotate(-90)">Relative intensity</text>
<path d="M487.85 813.5 V809.9 M482.0 809.9 H493.6" stroke="#ff3030" stroke-width="1" fill="none"/>
<path d="M523.20 756.6 V729.0 M517.5 729.0 H528.8" stroke="#7fa77f" stroke-width="1" fill="none"/>
<rect x="476.3" y="813.5" width="23.10" height="12.30" fill="#ff0000"/>
<rect x="511.8" y="756.6" width="22.80" height="69.20" fill="#005800"/>
<path d="M464.9 701.15 V826.45 M459.59999999999997 825.8 H547.0 M459.59999999999997 701.80 H464.9 M459.59999999999997 732.80 H464.9 M459.59999999999997 763.80 H464.9 M459.59999999999997 794.80 H464.9 M487.85 825.8 v4.8 M523.20 825.8 v4.8" stroke="#000" stroke-width="1.3" fill="none"/>
<text class="b" x="457.90" y="705.29" font-size="8.9" text-anchor="end">8×10<tspan font-size="5.87" dy="-3.40" dx="0.7">9</tspan></text>
<text class="b" x="457.90" y="736.29" font-size="8.9" text-anchor="end">6×10<tspan font-size="5.87" dy="-3.40" dx="0.7">9</tspan></text>
<text class="b" x="457.90" y="767.29" font-size="8.9" text-anchor="end">4×10<tspan font-size="5.87" dy="-3.40" dx="0.7">9</tspan></text>
<text class="b" x="457.90" y="798.29" font-size="8.9" text-anchor="end">2×10<tspan font-size="5.87" dy="-3.40" dx="0.7">9</tspan></text>
<text class="b" x="457.90" y="829.29" font-size="8.9" text-anchor="end">0</text>
<path d="M480.6 718.6 V712.0 H523.8 V718.6" stroke="#000" stroke-width="1.45" stroke-linejoin="round" fill="none"/>
<text class="b" x="500.2" y="709.0" font-size="15" text-anchor="middle" letter-spacing="0" fill="#000">*</text>
<text class="xl" x="487.90" y="841.0" font-size="8.6" letter-spacing="0.62">dbH<tspan font-size="5.68" stroke-width="0.1" dy="2.15">2</tspan><tspan dy="-2.15">O</tspan></text>
<text class="xl" x="522.50" y="841.0" font-size="8.6" letter-spacing="0.62">dbSDF</text>
</g>
<g>
<text class="pl" x="26.6" y="919.4" font-size="10.8">F</text>
<text class="b" x="130.0" y="920.8" font-size="13.1" text-anchor="middle">Prostaglandin E2</text>
<text class="b" font-size="13.0" text-anchor="middle" transform="translate(41.2,1007.7) rotate(-90)">Relative intensity</text>
<path d="M110.30 1026.6 V1021.2 M103.9 1021.2 H116.2" stroke="#ff3030" stroke-width="1" fill="none"/>
<path d="M149.75 974.0 V963.8 M142.9 963.8 H155.7" stroke="#7fa77f" stroke-width="1" fill="none"/>
<rect x="97.6" y="1026.6" width="25.40" height="50.30" fill="#ff0000"/>
<rect x="137.0" y="974.0" width="25.50" height="102.90" fill="#005800"/>
<path d="M84.2 938.65 V1077.55 M78.60000000000001 1076.9 H176.0 M78.60000000000001 939.30 H84.2 M78.60000000000001 973.70 H84.2 M78.60000000000001 1008.10 H84.2 M78.60000000000001 1042.50 H84.2 M110.30 1076.9 v5.0 M149.75 1076.9 v5.0" stroke="#000" stroke-width="1.3" fill="none"/>
<text class="b" x="76.70" y="943.59" font-size="10.3" text-anchor="end">2×10<tspan font-size="6.8" dy="-3.94" dx="0.7">7</tspan></text>
<text class="b" x="76.70" y="977.99" font-size="10.3" text-anchor="end">1.5×10<tspan font-size="6.8" dy="-3.94" dx="0.7">7</tspan></text>
<text class="b" x="76.70" y="1012.39" font-size="10.3" text-anchor="end">1×10<tspan font-size="6.8" dy="-3.94" dx="0.7">7</tspan></text>
<text class="b" x="76.70" y="1046.79" font-size="10.3" text-anchor="end">5×10<tspan font-size="6.8" dy="-3.94" dx="0.7">6</tspan></text>
<text class="b" x="76.70" y="1081.19" font-size="10.3" text-anchor="end">0</text>
<path d="M99.6 960.0 V951.5 H154.8 V960.0" stroke="#000" stroke-width="1.45" stroke-linejoin="round" fill="none"/>
<text class="pl" x="126.3" y="946.1" font-size="17.5" text-anchor="middle" letter-spacing="0.8" fill="#000">**</text>
<text class="xl" x="110.40" y="1093.4" font-size="9.8" letter-spacing="0.62">dbH<tspan font-size="6.47" stroke-width="0.1" dy="2.45">2</tspan><tspan dy="-2.45">O</tspan></text>
<text class="xl" x="149.50" y="1093.4" font-size="9.8" letter-spacing="0.62">dbSDF</text>
</g>
<g>
<text class="pl" x="230.3" y="922.2" font-size="10.5">G</text>
<text class="b" x="338.3" y="921.5" font-size="12.7" text-anchor="middle">Azelaic acid</text>
<text class="b" font-size="12.55" text-anchor="middle" transform="translate(246.3,1004.4) rotate(-90)">Relative intensity</text>
<path d="M320.10 1053.7 V1036.0 M313.8 1036.0 H325.8" stroke="#ff3030" stroke-width="1" fill="none"/>
<path d="M357.40 996.9 V965.0 M351.5 965.0 H363.4" stroke="#7fa77f" stroke-width="1" fill="none"/>
<rect x="307.9" y="1053.7" width="24.40" height="16.20" fill="#ff0000"/>
<rect x="345.3" y="996.9" width="24.20" height="73.00" fill="#005800"/>
<path d="M295.0 938.85 V1070.55 M289.4 1069.9 H383.2 M289.4 939.50 H295.0 M289.4 965.58 H295.0 M289.4 991.66 H295.0 M289.4 1017.74 H295.0 M289.4 1043.82 H295.0 M320.10 1069.9 v5.0 M357.40 1069.9 v5.0" stroke="#000" stroke-width="1.3" fill="none"/>
<text class="b" x="287.70" y="943.87" font-size="9.7" text-anchor="end">2.5×10<tspan font-size="6.4" dy="-3.71" dx="0.7">8</tspan></text>
<text class="b" x="287.70" y="969.95" font-size="9.7" text-anchor="end">2×10<tspan font-size="6.4" dy="-3.71" dx="0.7">8</tspan></text>
<text class="b" x="287.70" y="996.03" font-size="9.7" text-anchor="end">1.5×10<tspan font-size="6.4" dy="-3.71" dx="0.7">8</tspan></text>
<text class="b" x="287.70" y="1022.11" font-size="9.7" text-anchor="end">1×10<tspan font-size="6.4" dy="-3.71" dx="0.7">8</tspan></text>
<text class="b" x="287.70" y="1048.19" font-size="9.7" text-anchor="end">5×10<tspan font-size="6.4" dy="-3.71" dx="0.7">7</tspan></text>
<text class="b" x="287.70" y="1074.27" font-size="9.7" text-anchor="end">0</text>
<path d="M308.6 952.0 V945.2 H359.2 V952.0" stroke="#000" stroke-width="1.45" stroke-linejoin="round" fill="none"/>
<text class="b" x="337.5" y="939.8" font-size="16" text-anchor="middle" letter-spacing="0" fill="#000">*</text>
<text class="xl" x="320.00" y="1085.6" font-size="9.3" letter-spacing="0.62">dbH<tspan font-size="6.14" stroke-width="0.1" dy="2.33">2</tspan><tspan dy="-2.33">O</tspan></text>
<text class="xl" x="357.40" y="1085.6" font-size="9.3" letter-spacing="0.62">dbSDF</text>
</g>
<g>
<text class="pl" x="433.4" y="924.1" font-size="10.0">H</text>
<text class="b" x="530.5" y="919.1" font-size="12.8" text-anchor="middle">Ulimorelin</text>
<text class="b" font-size="12.7" text-anchor="middle" transform="translate(444.4,1003.9) rotate(-90)">Relative intensity</text>
<path d="M511.60 1039.1 V1020.9 M505.1 1020.9 H517.3" stroke="#ff3030" stroke-width="1" fill="none"/>
<path d="M549.85 978.0 V947.2 M543.5 947.2 H556.0" stroke="#7fa77f" stroke-width="1" fill="none"/>
<rect x="499.0" y="1039.1" width="25.20" height="30.80" fill="#ff0000"/>
<rect x="537.4" y="978.0" width="24.90" height="91.90" fill="#005800"/>
<path d="M486.3 936.52 V1070.48 M480.7 1069.9 H575.5 M480.7 937.10 H486.3 M480.7 970.30 H486.3 M480.7 1003.50 H486.3 M480.7 1036.70 H486.3 M511.60 1069.9 v5.0 M549.85 1069.9 v5.0" stroke="#000" stroke-width="1.15" fill="none"/>
<text class="b" x="478.70" y="941.47" font-size="9.7" text-anchor="end">4×10<tspan font-size="6.4" dy="-3.71" dx="0.7">7</tspan></text>
<text class="b" x="478.70" y="974.67" font-size="9.7" text-anchor="end">3×10<tspan font-size="6.4" dy="-3.71" dx="0.7">7</tspan></text>
<text class="b" x="478.70" y="1007.87" font-size="9.7" text-anchor="end">2×10<tspan font-size="6.4" dy="-3.71" dx="0.7">7</tspan></text>
<text class="b" x="478.70" y="1041.07" font-size="9.7" text-anchor="end">1×10<tspan font-size="6.4" dy="-3.71" dx="0.7">7</tspan></text>
<text class="b" x="478.70" y="1074.27" font-size="9.7" text-anchor="end">0</text>
<path d="M499.9 942.7 V937.2 H552.4 V942.7" stroke="#000" stroke-width="1.45" stroke-linejoin="round" fill="none"/>
<text class="b" x="526.4" y="934.4" font-size="16" text-anchor="middle" letter-spacing="0" fill="#000">*</text>
<text class="xl" x="511.50" y="1085.6" font-size="9.4" letter-spacing="0.62">dbH<tspan font-size="6.2" stroke-width="0.1" dy="2.35">2</tspan><tspan dy="-2.35">O</tspan></text>
<text class="xl" x="549.50" y="1085.6" font-size="9.4" letter-spacing="0.62">dbSDF</text>
</g>
</svg>
</body></html>
